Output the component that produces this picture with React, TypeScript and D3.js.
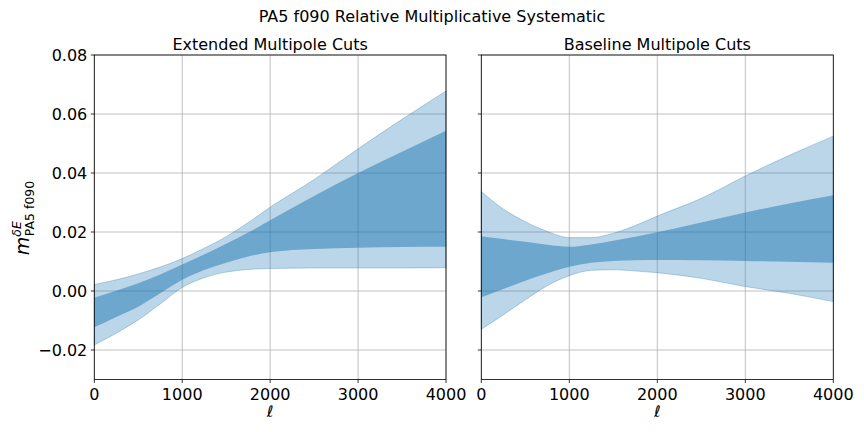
import React from "react";
import * as d3 from "d3";

const ELL = [0, 250, 500, 750, 1000, 1250, 1500, 1750, 2000, 2500, 3000, 3500, 4000];

// extended cuts
const extOuterHi = [0.0022, 0.0038, 0.0058, 0.0081, 0.011, 0.0145, 0.0184, 0.0232, 0.0284, 0.0378, 0.0482, 0.0582, 0.0678];
const extInnerHi = [-0.0023, 0.0001, 0.0026, 0.0056, 0.009, 0.0124, 0.016, 0.0198, 0.024, 0.0322, 0.04, 0.0472, 0.0543];
const extInnerLo = [-0.0123, -0.0088, -0.0053, -0.0008, 0.0038, 0.0071, 0.0096, 0.0117, 0.0131, 0.0142, 0.0147, 0.0149, 0.015];
const extOuterLo = [-0.0183, -0.0143, -0.0098, -0.0044, 0.0012, 0.0045, 0.0064, 0.0073, 0.0076, 0.0078, 0.0078, 0.0078, 0.0079];

// baseline cuts
const baseOuterHi = [0.0337, 0.0278, 0.0235, 0.0202, 0.0181, 0.0181, 0.0196, 0.0222, 0.0254, 0.0314, 0.039, 0.046, 0.0525];
const baseInnerHi = [0.0186, 0.0176, 0.0167, 0.0157, 0.015, 0.0158, 0.017, 0.0184, 0.0199, 0.0232, 0.0266, 0.0297, 0.0325];
const baseInnerLo = [-0.0021, 0.0007, 0.0035, 0.006, 0.0082, 0.0096, 0.0102, 0.0104, 0.0105, 0.0104, 0.0102, 0.0099, 0.0096];
const baseOuterLo = [-0.013, -0.0081, -0.003, 0.0018, 0.0052, 0.007, 0.0072, 0.0068, 0.0062, 0.0043, 0.0015, -0.0008, -0.0036];

const xTicks = [0, 1000, 2000, 3000, 4000];
const yTicks = [-0.02, 0, 0.02, 0.04, 0.06, 0.08];

const W = 864;
const H = 432;
const top = 55;
const bottom = 379.5;
const FONT = "DejaVu Sans, sans-serif";
const FS = 16;
const C0 = "#1f77b4";

const y = d3.scaleLinear().domain([-0.03, 0.08]).range([bottom, top]);

const fmtY = (v: number) => (v < 0 ? "\u2212" : "") + Math.abs(v).toFixed(2);

function Panel({ left, right, title, outerHi, outerLo, innerHi, innerLo, showY }: any) {
  const x = d3.scaleLinear().domain([0, 4000]).range([left, right]);
  const band = (hi: number[], lo: number[]) =>
    d3
      .area<number>()
      .x((_, i) => x(ELL[i]))
      .y0((_, i) => y(lo[i]))
      .y1((_, i) => y(hi[i]))
      .curve(d3.curveMonotoneX)(ELL)!;
  return (
    <g>
      {xTicks.map((t) => (
        <line key={"gx" + t} x1={x(t)} x2={x(t)} y1={top} y2={bottom} stroke="#b0b0b0" strokeWidth={0.8} />
      ))}
      {yTicks.map((t) => (
        <line key={"gy" + t} x1={left} x2={right} y1={y(t)} y2={y(t)} stroke="#b0b0b0" strokeWidth={0.8} />
      ))}
      <path d={band(outerHi, outerLo)} fill={C0} fillOpacity={0.3} stroke={C0} strokeOpacity={0.3} strokeWidth={1} />
      <path d={band(innerHi, innerLo)} fill={C0} fillOpacity={0.5} />
      <rect x={left} y={top} width={right - left} height={bottom - top} fill="none" stroke="#000" strokeWidth={0.8} />
      {xTicks.map((t) => (
        <g key={"tx" + t}>
          <line x1={x(t)} x2={x(t)} y1={bottom} y2={bottom + 3.5} stroke="#000" strokeWidth={0.8} />
          <text x={x(t)} y={bottom + 20} textAnchor="middle" fontSize={FS} fontFamily={FONT}>
            {t}
          </text>
        </g>
      ))}
      {yTicks.map((t) => (
        <g key={"ty" + t}>
          <line x1={left - 3.5} x2={left} y1={y(t)} y2={y(t)} stroke="#000" strokeWidth={0.8} />
          {showY && (
            <text x={left - 7} y={y(t) + 5.8} textAnchor="end" fontSize={FS} fontFamily={FONT}>
              {fmtY(t)}
            </text>
          )}
        </g>
      ))}
      <text x={(left + right) / 2} y={49.5} textAnchor="middle" fontSize={FS} fontFamily={FONT}>
        {title}
      </text>
      <text x={(left + right) / 2} y={417} textAnchor="middle" fontSize={FS} fontFamily={FONT} fontStyle="italic">
        ℓ
      </text>
    </g>
  );
}

export default function App() {
  return (
    <svg width={W} height={H} style={{ position: "absolute", left: 0, top: 0, background: "#fff" }}>
      <rect width={W} height={H} fill="#fff" />
      <text x={432} y={21.5} textAnchor="middle" fontSize={FS} fontFamily={FONT}>
        PA5 f090 Relative Multiplicative Systematic
      </text>
      <Panel
        left={94.3}
        right={446}
        title="Extended Multipole Cuts"
        outerHi={extOuterHi}
        outerLo={extOuterLo}
        innerHi={extInnerHi}
        innerLo={extInnerLo}
        showY
      />
      <Panel
        left={481.3}
        right={833.3}
        title="Baseline Multipole Cuts"
        outerHi={baseOuterHi}
        outerLo={baseOuterLo}
        innerHi={baseInnerHi}
        innerLo={baseInnerLo}
        showY={false}
      />
      <g transform="translate(29,218) rotate(-90)">
        <text textAnchor="middle" fontFamily={FONT}>
          <tspan fontSize={19} fontStyle="italic">m</tspan>
          <tspan fontSize={12.5} dy={-8} fontStyle="italic">δE</tspan>
          <tspan fontSize={12.5} dx={-15} dy={12.5}>PA5 f090</tspan>
        </text>
      </g>
    </svg>
  );
}
